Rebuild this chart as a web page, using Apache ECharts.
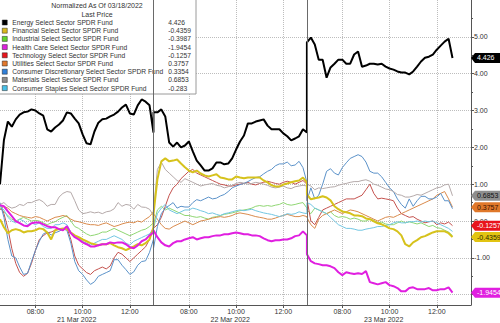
<!DOCTYPE html>
<html>
<head>
<meta charset="utf-8">
<script src="https://cdn.jsdelivr.net/npm/echarts@6/dist/echarts.min.js"></script>
<style>
  html, body { margin: 0; padding: 0; background: #fff; }
  #chart { width: 500px; height: 323px; }
</style>
</head>
<body>
<div id="chart"></div>
<script>
// Sector ETF performance, normalized to the 03/18/2022 close, three trading sessions.
const dayLabels = ['21 Mar 2022', '22 Mar 2022', '23 Mar 2022'];
const timeTickLabels = ['08:00', '10:00', '12:00'];
const sampleTimes = [
  '06:30','06:40','06:50','07:00','07:10','07:20','07:30','07:40','07:50','08:00',
  '08:10','08:20','08:30','08:40','08:50','09:00','09:10','09:20','09:30','09:40',
  '09:50','10:00','10:10','10:20','10:30','10:40','10:50','11:00','11:10','11:20',
  '11:30','11:40','11:50','12:00','12:10','12:20','12:30','12:40','12:50','13:00'
];
const yTickValues = [-2, -1, 0, 1, 2, 3, 4, 5];
const yLabelValues = [-1, 0, 1, 2, 3, 4, 5];
const yMinorValues = [-1.5, -0.5, 0.5, 1.5, 2.5, 3.5, 4.5, 5.5];

const seriesNames = [
  'Energy Select Sector SPDR Fund',
  'Financial Select Sector SPDR Fund',
  'Industrial Select Sector SPDR Fund',
  'Health Care Select Sector SPDR Fund',
  'Technology Select Sector SPDR Fund',
  'Utilities Select Sector SPDR Fund',
  'Consumer Discretionary Select Sector SPDR Fund',
  'Materials Select Sector SPDR Fund',
  'Consumer Staples Select Sector SPDR Fund'
];

// one inner array per session, sampled every 10 minutes
const energy = [
  [1.0,2.2,2.7,2.56,2.76,2.89,2.95,2.97,3.03,3.0,2.92,2.86,2.49,2.43,2.54,2.62,2.73,2.95,2.92,2.78,2.65,2.35,2.11,2.08,2.43,2.67,2.76,2.78,2.84,2.89,2.97,3.08,3.16,2.92,2.89,3.14,3.3,3.24,3.14,2.4],
  [2.95,2.95,3.03,2.84,2.13,2.02,2.13,2.0,2.05,2.16,1.89,1.64,1.51,1.37,1.37,1.43,1.59,1.59,1.54,1.56,1.7,1.94,2.16,2.32,2.65,2.65,2.7,2.73,2.76,2.59,2.49,2.49,2.49,2.38,2.3,2.19,2.24,2.3,2.49,2.4],
  [4.85,4.98,4.79,4.38,4.38,3.89,4.17,4.27,4.38,4.38,4.27,4.27,4.52,4.6,4.19,4.22,4.27,4.27,4.25,4.27,4.19,4.14,4.11,4.06,4.03,4.03,3.98,4.06,4.19,4.33,4.43,4.46,4.52,4.65,4.76,4.87,4.95,4.426]
];
const financial = [
  [0.05,-0.17,-0.33,-0.25,-0.22,-0.25,-0.31,-0.28,-0.28,-0.25,-0.2,-0.22,-0.31,-0.5,-0.25,-0.22,-0.2,-0.22,-0.31,-0.39,-0.44,-0.5,-0.55,-0.6,-0.63,-0.66,-0.63,-0.63,-0.6,-0.66,-0.71,-0.74,-0.79,-0.74,-0.69,-0.63,-0.66,-0.6,-0.5,-0.17],
  [0.18,1.13,1.62,1.7,1.62,1.64,1.67,1.56,1.46,1.37,1.32,1.37,1.29,1.24,1.21,1.24,1.27,1.18,1.16,1.13,1.13,1.21,1.18,1.16,1.18,1.18,1.18,1.18,1.1,1.05,0.97,0.94,0.94,0.99,1.02,1.05,1.08,1.1,1.18,1.05],
  [0.72,0.59,0.62,0.64,0.67,0.64,0.56,0.4,0.32,0.26,0.24,0.21,0.15,0.15,0.13,0.07,0.05,-0.01,-0.06,-0.09,-0.14,-0.2,-0.22,-0.28,-0.39,-0.63,-0.69,-0.58,-0.52,-0.44,-0.41,-0.36,-0.31,-0.28,-0.28,-0.28,-0.33,-0.4359]
];
const industrial = [
  [0.35,0.25,0.15,0.05,0.0,0.05,0.1,0.05,0.0,0.02,0.0,-0.05,-0.1,-0.05,-0.02,0.05,0.1,0.15,0.0,-0.15,-0.2,-0.28,-0.35,-0.4,-0.38,-0.35,-0.3,-0.3,-0.25,-0.2,-0.25,-0.3,-0.35,-0.4,-0.35,-0.3,-0.25,-0.22,-0.15,-0.05],
  [-0.1,0.3,0.4,0.3,0.35,0.3,0.25,0.2,0.15,0.15,0.12,0.1,0.12,0.08,0.05,0.1,0.12,0.15,0.18,0.2,0.22,0.25,0.28,0.3,0.32,0.35,0.4,0.42,0.4,0.42,0.4,0.43,0.45,0.5,0.45,0.43,0.45,0.48,0.5,0.35],
  [0.3,0.2,0.35,0.3,0.25,0.2,0.25,0.15,0.1,0.12,0.1,0.05,0.08,0.05,0.0,0.0,0.05,0.02,-0.05,-0.03,-0.08,-0.1,-0.1,-0.05,0.0,-0.05,-0.02,-0.05,-0.08,-0.05,-0.1,-0.15,-0.12,-0.18,-0.2,-0.25,-0.3,-0.3987]
];
const healthCare = [
  [0.43,0.4,0.26,0.13,0.0,-0.06,-0.12,-0.14,-0.06,-0.04,-0.04,-0.09,-0.14,-0.17,-0.17,-0.22,-0.25,-0.14,-0.33,-0.44,-0.5,-0.58,-0.63,-0.69,-0.69,-0.66,-0.63,-0.63,-0.58,-0.6,-0.58,-0.58,-0.63,-0.71,-0.74,-0.66,-0.55,-0.5,-0.39,-0.31],
  [-0.25,-0.44,-0.58,-0.66,-0.69,-0.6,-0.55,-0.55,-0.5,-0.47,-0.44,-0.5,-0.47,-0.44,-0.44,-0.41,-0.39,-0.39,-0.36,-0.36,-0.33,-0.31,-0.33,-0.36,-0.36,-0.39,-0.39,-0.41,-0.47,-0.52,-0.55,-0.52,-0.52,-0.5,-0.5,-0.47,-0.41,-0.39,-0.28,-0.39],
  [-0.9,-1.09,-1.15,-1.17,-1.2,-1.2,-1.23,-1.28,-1.39,-1.47,-1.39,-1.42,-1.44,-1.42,-1.44,-1.36,-1.66,-1.69,-1.72,-1.69,-1.66,-1.74,-1.77,-1.82,-1.91,-1.91,-1.82,-1.8,-1.85,-1.85,-1.85,-1.82,-1.88,-1.88,-1.85,-1.85,-1.8,-1.9454]
];
const technology = [
  [0.45,0.2,-0.2,-0.75,-1.15,-1.4,-1.5,-1.42,-1.15,-0.8,-0.5,-0.4,-0.32,-0.3,-0.25,-0.2,-0.24,-0.18,-0.5,-0.95,-1.2,-1.3,-1.4,-1.45,-1.35,-1.3,-1.25,-1.3,-1.22,-1.0,-0.85,-0.9,-1.0,-1.1,-1.0,-0.9,-0.8,-0.7,-0.5,-0.2],
  [-0.2,-0.1,0.1,0.4,0.7,0.9,1.0,1.15,1.25,1.35,1.4,1.3,1.25,1.2,1.15,1.1,1.05,1.0,0.98,0.95,0.95,0.98,1.0,1.02,1.05,1.0,0.98,1.02,1.05,1.08,1.05,1.02,1.0,1.05,1.08,1.05,1.0,1.05,1.1,1.0],
  [0.6,0.0,-0.1,0.1,0.3,0.35,0.4,0.45,0.5,0.55,0.6,0.6,0.6,0.65,0.7,0.85,1.0,0.75,0.6,0.62,0.6,0.58,0.55,0.35,0.2,0.15,0.1,0.12,0.05,0.0,-0.05,-0.02,0.0,-0.1,-0.05,-0.08,-0.03,-0.1257]
];
const utilities = [
  [0.3,0.4,0.35,0.25,0.2,0.15,0.12,0.1,0.08,0.12,0.1,0.05,0.0,0.05,0.1,0.12,0.15,0.12,0.05,0.0,-0.02,-0.05,-0.08,-0.1,-0.1,-0.12,-0.08,-0.05,-0.1,-0.15,-0.12,-0.08,-0.05,-0.03,-0.05,0.0,-0.03,0.05,0.12,0.25],
  [0.2,0.05,-0.1,-0.2,-0.22,-0.15,-0.1,-0.05,0.0,-0.05,-0.1,-0.05,0.0,0.02,0.05,0.08,0.1,0.12,0.1,0.12,0.15,0.2,0.22,0.2,0.18,0.15,0.12,0.1,0.08,0.05,0.05,0.08,0.12,0.15,0.18,0.15,0.12,0.12,0.15,0.12],
  [0.1,-0.1,-0.2,0.05,0.15,0.2,0.25,0.3,0.25,0.2,0.25,0.3,0.28,0.25,0.2,0.15,0.1,0.05,0.0,0.05,0.1,0.12,0.1,0.15,0.2,0.25,0.3,0.35,0.4,0.45,0.5,0.55,0.6,0.7,0.75,0.8,0.6,0.3757]
];
const consumerDiscretionary = [
  [0.5,0.1,-0.5,-0.95,-1.0,-1.25,-1.45,-1.42,-1.1,-0.8,-0.55,-0.35,-0.3,-0.38,-0.32,-0.28,-0.22,-0.25,-0.6,-1.1,-1.35,-1.45,-1.6,-1.72,-1.65,-1.5,-1.45,-1.4,-1.35,-1.05,-1.05,-1.2,-1.32,-1.45,-1.38,-1.2,-1.1,-1.08,-0.85,-0.5],
  [-0.75,-0.15,0.2,0.35,0.42,0.5,0.35,0.4,0.38,0.38,0.5,0.58,0.55,0.6,0.65,0.6,0.62,0.68,0.72,0.8,0.9,0.95,0.99,1.02,1.07,1.13,1.18,1.2,1.28,1.35,1.4,1.5,1.55,1.55,1.6,1.5,1.52,1.62,1.45,1.05],
  [0.55,0.9,0.6,0.7,1.0,1.35,1.42,1.3,1.25,1.45,1.58,1.7,1.75,1.8,1.75,1.6,1.35,1.3,1.3,1.2,1.05,0.9,0.8,0.6,0.45,0.35,0.6,0.4,0.55,0.67,0.67,0.6,0.6,0.65,0.75,0.55,0.55,0.3354]
];
const materials = [
  [0.45,0.5,0.4,0.35,0.38,0.45,0.42,0.5,0.5,0.55,0.58,0.52,0.4,0.45,0.45,0.65,0.75,0.8,0.78,0.55,0.3,0.2,0.22,0.25,0.22,0.24,0.2,0.25,0.27,0.33,0.5,0.4,0.45,0.43,0.32,0.45,0.38,0.37,0.32,0.15],
  [0.3,1.4,1.6,1.4,1.3,1.2,1.1,1.05,1.15,1.1,1.05,1.0,0.95,0.98,1.0,1.02,0.97,0.95,0.9,0.93,0.97,1.02,1.05,1.03,1.0,1.02,1.05,1.03,1.0,0.97,0.92,0.9,0.92,0.95,0.9,0.88,0.93,0.95,0.97,0.95],
  [1.0,0.95,0.85,0.9,0.88,0.9,0.92,0.93,0.97,1.0,1.02,1.05,1.07,1.07,1.1,1.12,1.08,1.0,0.97,0.92,0.87,0.85,0.8,0.72,0.7,0.65,0.65,0.68,0.72,0.7,0.75,0.8,0.85,0.9,0.92,0.98,1.0,0.6853]
];
const consumerStaples = [
  [0.4,0.3,0.1,0.0,-0.05,0.05,0.0,-0.1,-0.05,-0.1,-0.05,-0.15,-0.2,-0.2,-0.1,-0.1,-0.05,-0.1,-0.3,-0.4,-0.45,-0.55,-0.6,-0.65,-0.6,-0.55,-0.5,-0.5,-0.45,-0.4,-0.45,-0.5,-0.6,-0.65,-0.55,-0.5,-0.45,-0.4,-0.35,-0.2],
  [-0.2,0.2,0.35,0.45,0.3,0.25,0.2,0.25,0.3,0.3,0.35,0.32,0.28,0.25,0.2,0.22,0.18,0.15,0.2,0.22,0.25,0.28,0.3,0.28,0.3,0.32,0.28,0.25,0.22,0.2,0.18,0.15,0.12,0.15,0.2,0.18,0.2,0.25,0.22,0.2],
  [0.5,0.45,0.35,0.3,0.25,0.2,0.1,0.0,-0.1,-0.15,-0.2,-0.2,-0.22,-0.25,-0.25,-0.22,-0.2,-0.18,-0.15,-0.15,-0.12,-0.1,-0.05,-0.02,-0.05,-0.05,-0.02,-0.02,0.0,-0.03,0.0,-0.02,0.0,-0.05,-0.1,-0.15,-0.2,-0.283]
];

const seriesValues = [energy, financial, industrial, healthCare, technology, utilities,
  consumerDiscretionary, materials, consumerStaples];
const lineColors = ['#000000', '#d6c21c', '#8fd672', '#e01fe0', '#c4524e', '#d98a4c', '#5b92c9', '#b4a9a9', '#72c6e2'];
const swatchColors = ['#000000', '#d9b81c', '#5fd62c', '#dd22dd', '#e8141c', '#e2782c', '#2f7fd8', '#8c8c8c', '#48c0e8'];
const lineWidths = [2, 2, 1, 2, 1, 1, 1, 1, 1];
const thickLine = [true, true, false, true, false, false, false, false, false];
// tags on the price axis: [series index, tag fill, tag text colour]
const priceTags = [
  [0, '#000000', '#ffffff'],
  [7, '#8e8e8e', '#111111'],
  [5, '#e0782a', '#3a1200'],
  [4, '#e8141c', '#ffffff'],
  [1, '#e2c412', '#2a2a00'],
  [3, '#e01fe0', '#ffffff']
];

const SESSION = 390;        // 06:30 - 13:00
const OPEN = 6 * 60 + 30;
const XMAX = 1197;
const YMIN = -2.28, YMAX = 6;

function toX(day, t) {
  const p = t.split(':').map(Number);
  return day * SESSION + p[0] * 60 + p[1] - OPEN;
}
function fmtTime(v) {
  const m = Math.round(((v % SESSION) + SESSION) % SESSION) + OPEN;
  const h = Math.floor(m / 60), mm = m % 60;
  return (h < 10 ? '0' : '') + h + ':' + (mm < 10 ? '0' : '') + mm;
}
function lastOf(s) { const d = s[s.length - 1]; return d[d.length - 1]; }

const timeTickValues = [];
dayLabels.forEach((_, d) => timeTickLabels.forEach(t => timeTickValues.push(toX(d, t))));
const dayCenters = dayLabels.map((_, d) => d * SESSION + SESSION / 2);

const chart = echarts.init(document.getElementById('chart'), null, { renderer: 'svg', width: 500, height: 323 });
const font = 'Liberation Sans, Arial, sans-serif';

const series = seriesNames.map((name, i) => {
  const data = [];
  seriesValues[i].forEach((dayVals, d) => {
    dayVals.forEach((v, k) => data.push([toX(d, sampleTimes[k]), v]));
  });
  const s = {
    name, type: 'line', data, showSymbol: false, symbol: 'none',
    z: thickLine[i] ? 3 : 2,
    lineStyle: { color: lineColors[i], width: lineWidths[i] },
    itemStyle: { color: lineColors[i] },
    emphasis: { disabled: true },
    animation: false
  };
  const tag = priceTags.find(p => p[0] === i);
  if (tag) {
    const v = lastOf(seriesValues[i]);
    s.markPoint = {
      symbol: 'path://M0,5L4,0L30,0L30,10L4,10Z',
      symbolSize: [30, 10],
      symbolKeepAspect: false,
      symbolOffset: ['50%', 0],
      animation: false,
      silent: true,
      z: 10,
      data: [{
        coord: [XMAX, v], value: v,
        itemStyle: { color: tag[1] },
        label: {
          show: true, position: 'insideLeft', distance: 6,
          formatter: String(v), color: tag[2], fontSize: 7, fontFamily: font
        }
      }]
    };
  }
  return s;
});

// session separators
series[2].markLine = {
  symbol: 'none', silent: true, animation: false,
  label: { show: false },
  lineStyle: { color: '#6a6a6a', type: 'solid', width: 1 },
  data: [{ xAxis: SESSION }, { xAxis: SESSION * 2 }]
};

chart.setOption({
  animation: false,
  backgroundColor: '#ffffff',
  grid: { left: 0, right: 29, top: 0, bottom: 17 },
  xAxis: [{
    type: 'value', min: 0, max: XMAX, position: 'bottom',
    axisLine: { show: true, onZero: false, lineStyle: { color: '#555', width: 1 } },
    axisTick: { show: true, length: 3, customValues: timeTickValues, lineStyle: { color: '#555' } },
    axisLabel: { customValues: timeTickValues, formatter: fmtTime, fontSize: 7, color: '#333', margin: 3, fontFamily: font },
    splitLine: { show: true, lineStyle: { color: '#bdbdbd', type: 'dotted', width: 1 } }
  }, {
    type: 'value', min: 0, max: XMAX, position: 'bottom',
    axisLine: { show: false, onZero: false },
    axisTick: { show: false },
    axisLabel: { customValues: dayCenters, formatter: v => dayLabels[Math.floor(v / SESSION)], fontSize: 7, color: '#333', margin: 11, fontFamily: font },
    splitLine: { show: false }
  }],
  yAxis: [{
    type: 'value', min: YMIN, max: YMAX, position: 'right',
    axisLine: { show: true, onZero: false, lineStyle: { color: '#555', width: 1 } },
    axisTick: { show: true, length: 3, customValues: yTickValues, lineStyle: { color: '#555' } },
    axisLabel: { customValues: yLabelValues, formatter: v => v.toFixed(2), fontSize: 7, color: '#333', margin: 3, fontFamily: font, hideOverlap: false },
    splitLine: { show: true, lineStyle: { color: '#bdbdbd', type: 'dotted', width: 1 } }
  }, {
    type: 'value', min: YMIN, max: YMAX, position: 'right',
    axisLine: { show: false, onZero: false },
    axisTick: { show: true, length: 2, customValues: yMinorValues, lineStyle: { color: '#555' } },
    axisLabel: { show: false },
    splitLine: { show: false }
  }],
  legend: {
    orient: 'vertical', left: 2, top: 19, padding: 0, z: 5,
    itemWidth: 5, itemHeight: 5, itemGap: 1.2,
    icon: 'rect', selectedMode: false,
    data: seriesNames.map((n, i) => ({ name: n, itemStyle: { color: swatchColors[i], borderColor: '#222', borderWidth: 0.5 } })),
    formatter: name => {
      const i = seriesNames.indexOf(name);
      return '{n|' + name + '}{v|' + String(lastOf(seriesValues[i])) + '}';
    },
    textStyle: {
      fontSize: 6.7, color: '#333', fontFamily: font,
      rich: {
        n: { width: 156, fontSize: 6.7, lineHeight: 8, color: '#333', fontFamily: font },
        v: { fontSize: 6.7, lineHeight: 8, color: '#333', fontFamily: font }
      }
    }
  },
  graphic: [
    { type: 'rect', z: 4, silent: true, shape: { x: -1, y: -1, width: 197, height: 95 },
      style: { fill: '#ffffff', stroke: '#9a9a9a', lineWidth: 1 } },
    { type: 'text', z: 6, silent: true, x: 97, y: 2,
      style: { text: 'Normalized As Of 03/18/2022', fill: '#333', fontSize: 7, fontFamily: font, textAlign: 'center' } },
    { type: 'text', z: 6, silent: true, x: 97, y: 10.5,
      style: { text: 'Last Price', fill: '#333', fontSize: 7, fontFamily: font, textAlign: 'center' } }
  ],
  series
});
</script>
</body>
</html>
